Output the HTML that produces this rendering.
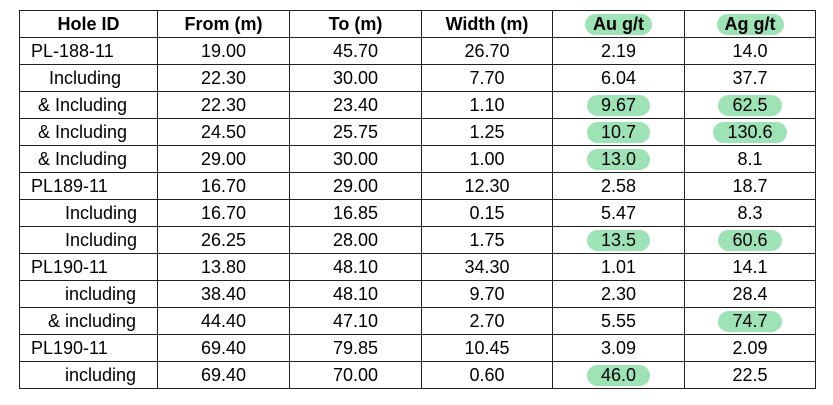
<!DOCTYPE html>
<html><head><style>
body{margin:0;width:833px;height:405px;background:#fff;font-family:"Liberation Sans",Arial,sans-serif;color:#000;position:relative;overflow:hidden}
table{position:absolute;left:19px;top:10px;border-collapse:collapse;font-size:18px}
td,th{border:1.5px solid #222;height:26px;padding:0;text-align:center;line-height:25px}
th{font-weight:bold}
td:first-child{text-align:left}
.h{display:inline-block;background:#9ee3b6;border-radius:12px;padding:0 14px;line-height:21px}
</style></head><body>
<table>
<colgroup><col style="width:138px"><col style="width:132px"><col style="width:132px"><col style="width:131px"><col style="width:132px"><col style="width:131px"></colgroup>
<tr><th>Hole ID</th><th>From (m)</th><th>To (m)</th><th>Width (m)</th><th><span class="h" style="padding:0 8px">Au g/t</span></th><th><span class="h" style="padding:0 8px">Ag g/t</span></th></tr>
<tr><td style="padding-left:11px">PL-188-11</td><td>19.00</td><td>45.70</td><td>26.70</td><td>2.19</td><td>14.0</td></tr>
<tr><td style="padding-left:29px">Including</td><td>22.30</td><td>30.00</td><td>7.70</td><td>6.04</td><td>37.7</td></tr>
<tr><td style="padding-left:18px">&amp; Including</td><td>22.30</td><td>23.40</td><td>1.10</td><td><span class="h">9.67</span></td><td><span class="h">62.5</span></td></tr>
<tr><td style="padding-left:18px">&amp; Including</td><td>24.50</td><td>25.75</td><td>1.25</td><td><span class="h">10.7</span></td><td><span class="h">130.6</span></td></tr>
<tr><td style="padding-left:18px">&amp; Including</td><td>29.00</td><td>30.00</td><td>1.00</td><td><span class="h">13.0</span></td><td>8.1</td></tr>
<tr><td style="padding-left:11px">PL189-11</td><td>16.70</td><td>29.00</td><td>12.30</td><td>2.58</td><td>18.7</td></tr>
<tr><td style="padding-left:45px">Including</td><td>16.70</td><td>16.85</td><td>0.15</td><td>5.47</td><td>8.3</td></tr>
<tr><td style="padding-left:45px">Including</td><td>26.25</td><td>28.00</td><td>1.75</td><td><span class="h">13.5</span></td><td><span class="h">60.6</span></td></tr>
<tr><td style="padding-left:11px">PL190-11</td><td>13.80</td><td>48.10</td><td>34.30</td><td>1.01</td><td>14.1</td></tr>
<tr><td style="padding-left:45px">including</td><td>38.40</td><td>48.10</td><td>9.70</td><td>2.30</td><td>28.4</td></tr>
<tr><td style="padding-left:28px">&amp; including</td><td>44.40</td><td>47.10</td><td>2.70</td><td>5.55</td><td><span class="h">74.7</span></td></tr>
<tr><td style="padding-left:11px">PL190-11</td><td>69.40</td><td>79.85</td><td>10.45</td><td>3.09</td><td>2.09</td></tr>
<tr><td style="padding-left:45px">including</td><td>69.40</td><td>70.00</td><td>0.60</td><td><span class="h">46.0</span></td><td>22.5</td></tr>
</table>
</body></html>
